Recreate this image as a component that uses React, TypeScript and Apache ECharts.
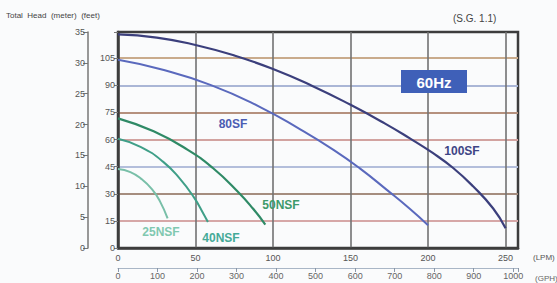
import React, { useEffect, useRef } from 'react';
import * as echarts from 'echarts';

// Flow (LPM) / total head (m) for each pump curve
const flow100SF = [0, 25, 50, 75, 100, 125, 150, 172, 188, 203, 216, 229, 242, 250];
const head100SF = [34.6, 34.1, 32.9, 31.2, 29.0, 26.3, 23.2, 20.2, 17.8, 15.4, 13.0, 10.0, 6.4, 3.2];

const flow80SF = [0, 27, 60, 92, 117, 139, 156, 174, 188, 200];
const head80SF = [30.5, 29.0, 26.4, 22.8, 19.3, 15.9, 12.9, 9.3, 6.4, 3.7];

const flow50NSF = [0, 23, 45, 61, 77, 87, 95];
const head50NSF = [21.0, 18.9, 15.9, 13.0, 9.2, 6.4, 3.8];

const flow40NSF = [0, 14.5, 29, 40, 49, 55, 58];
const head40NSF = [17.7, 16.4, 14.0, 11.2, 8.2, 5.6, 4.2];

const flow25NSF = [0, 8, 15, 22, 27, 32];
const head25NSF = [12.8, 12.3, 11.2, 9.5, 7.6, 4.8];

const seriesNames = ['100SF', '80SF', '50NSF', '40NSF', '25NSF'];
const seriesColors = ['#3b3f7c', '#5a69bd', '#2f8a66', '#3f9f88', '#78bfa8'];
const labelColors = ['#3e4585', '#4b5db3', '#3d9a6a', '#45aa98', '#80c8b0'];

const feetGridColors = ['#d6a7a7', '#a58d7f', '#b3bedb', '#d2a3a0', '#b5917e', '#aab6d6', '#c9ab8c'];

const zip = (xs: number[], ys: number[]) => xs.map((x, i) => [x, ys[i]]);

export default function App() {
  const ref = useRef<HTMLDivElement>(null);

  useEffect(() => {
    if (!ref.current) return;
    const chart = echarts.init(ref.current, null, { renderer: 'svg' });
    const font = "'Liberation Sans Narrow', 'Liberation Sans', sans-serif";
    const datasets = [
      zip(flow100SF, head100SF),
      zip(flow80SF, head80SF),
      zip(flow50NSF, head50NSF),
      zip(flow40NSF, head40NSF),
      zip(flow25NSF, head25NSF),
    ];
    const widths = [2.2, 2, 2.2, 2, 2];
    chart.setOption({
      animation: false,
      backgroundColor: '#fafbfc',
      textStyle: { fontFamily: font },
      grid: {
        left: 118,
        top: 32,
        width: 400,
        height: 216,
        show: true,
        borderColor: '#3d3d3d',
        borderWidth: 2.5,
        backgroundColor: 'transparent',
      },
      xAxis: [
        {
          type: 'value',
          min: 0,
          max: 258,
          interval: 50,
          position: 'bottom',
          axisLine: { show: true, lineStyle: { color: '#3d3d3d', width: 2.5 } },
          axisTick: { show: false },
          axisLabel: {
            fontSize: 9,
            color: '#555',
            margin: 5,
            fontFamily: font,
            formatter: (v: number) => (v % 50 === 0 ? String(v) : ''),
          },
          splitLine: {
            show: true,
            showMinLine: false,
            showMaxLine: false,
            lineStyle: { color: '#727272', width: 1.6 },
          },
        },
        {
          type: 'value',
          min: 0,
          max: 1012,
          interval: 100,
          position: 'bottom',
          offset: 20,
          axisLine: { show: true, onZero: false, lineStyle: { color: '#a9b6c6', width: 1.2 } },
          axisTick: { show: true, length: 4, lineStyle: { color: '#8a97a8' } },
          axisLabel: {
            fontSize: 9,
            color: '#666',
            margin: 3,
            fontFamily: font,
            formatter: (v: number) => (v % 100 === 0 ? String(v) : ''),
          },
          splitLine: { show: false },
        },
      ],
      yAxis: [
        {
          type: 'value',
          min: 0,
          max: 35,
          interval: 5,
          position: 'left',
          offset: 30,
          axisLine: { show: true, onZero: false, lineStyle: { color: '#777', width: 1.5 } },
          axisTick: { show: true, length: 5, lineStyle: { color: '#777' } },
          axisLabel: { fontSize: 9, color: '#555', margin: 3, fontFamily: font },
          splitLine: { show: false },
        },
        {
          type: 'value',
          min: 0,
          max: 119.5,
          interval: 15,
          position: 'left',
          offset: 0,
          axisLine: { show: true, onZero: false, lineStyle: { color: '#3d3d3d', width: 2.5 } },
          axisTick: { show: true, length: 4, lineStyle: { color: '#777' } },
          axisLabel: {
            fontSize: 9,
            color: '#555',
            margin: 3,
            fontFamily: font,
            formatter: (v: number) => (v % 15 === 0 ? String(v) : ''),
          },
          splitLine: {
            show: true,
            showMinLine: false,
            showMaxLine: false,
            lineStyle: { color: feetGridColors, width: 1.8 },
          },
        },
      ],
      series: datasets.map((d, i) => ({
        name: seriesNames[i],
        type: 'line',
        xAxisIndex: 0,
        yAxisIndex: 0,
        data: d,
        smooth: true,
        showSymbol: false,
        symbol: 'none',
        lineStyle: { color: seriesColors[i], width: widths[i] },
        z: 5,
      })),
      graphic: [
        {
          type: 'text',
          left: 6,
          top: 11,
          style: { text: 'Total  Head  (meter)  (feet)', fontSize: 8, fill: '#444', fontFamily: font },
        },
        {
          type: 'text',
          left: 453,
          top: 13,
          style: { text: '(S.G. 1.1)', fontSize: 10, fill: '#444', fontFamily: font },
        },
        {
          type: 'text',
          left: 533,
          top: 253,
          style: { text: '(LPM)', fontSize: 8, fill: '#555', fontFamily: font },
        },
        {
          type: 'text',
          left: 535,
          top: 274,
          style: { text: '(GPH)', fontSize: 8, fill: '#666', fontFamily: font },
        },
        {
          type: 'group',
          left: 401,
          top: 70,
          z: 100,
          children: [
            { type: 'rect', z: 100, shape: { x: 0, y: 0, width: 66, height: 23 }, style: { fill: '#3f60b8' } },
            {
              type: 'text',
              z: 101,
              x: 33,
              y: 12,
              style: {
                text: '60Hz',
                fontSize: 15,
                fontWeight: 'bold',
                fill: '#ffffff',
                align: 'center',
                verticalAlign: 'middle',
                fontFamily: "'Liberation Sans', sans-serif",
              },
            },
          ],
        },
        ...[
          { t: '100SF', x: 462, y: 151, c: labelColors[0] },
          { t: '80SF', x: 233, y: 124, c: labelColors[1] },
          { t: '50NSF', x: 281, y: 205, c: labelColors[2] },
          { t: '40NSF', x: 221, y: 238, c: labelColors[3] },
          { t: '25NSF', x: 161, y: 232, c: labelColors[4] },
        ].map((l) => ({
          type: 'text',
          x: l.x,
          y: l.y,
          z: 10,
          style: {
            text: l.t,
            fontSize: 12,
            fontWeight: 'bold',
            fill: l.c,
            align: 'center',
            verticalAlign: 'middle',
            fontFamily: font,
          },
        })),
      ],
    });
    return () => chart.dispose();
  }, []);

  return <div ref={ref} style={{ position: 'fixed', left: 0, top: 0, width: 557, height: 283 }} />;
}
